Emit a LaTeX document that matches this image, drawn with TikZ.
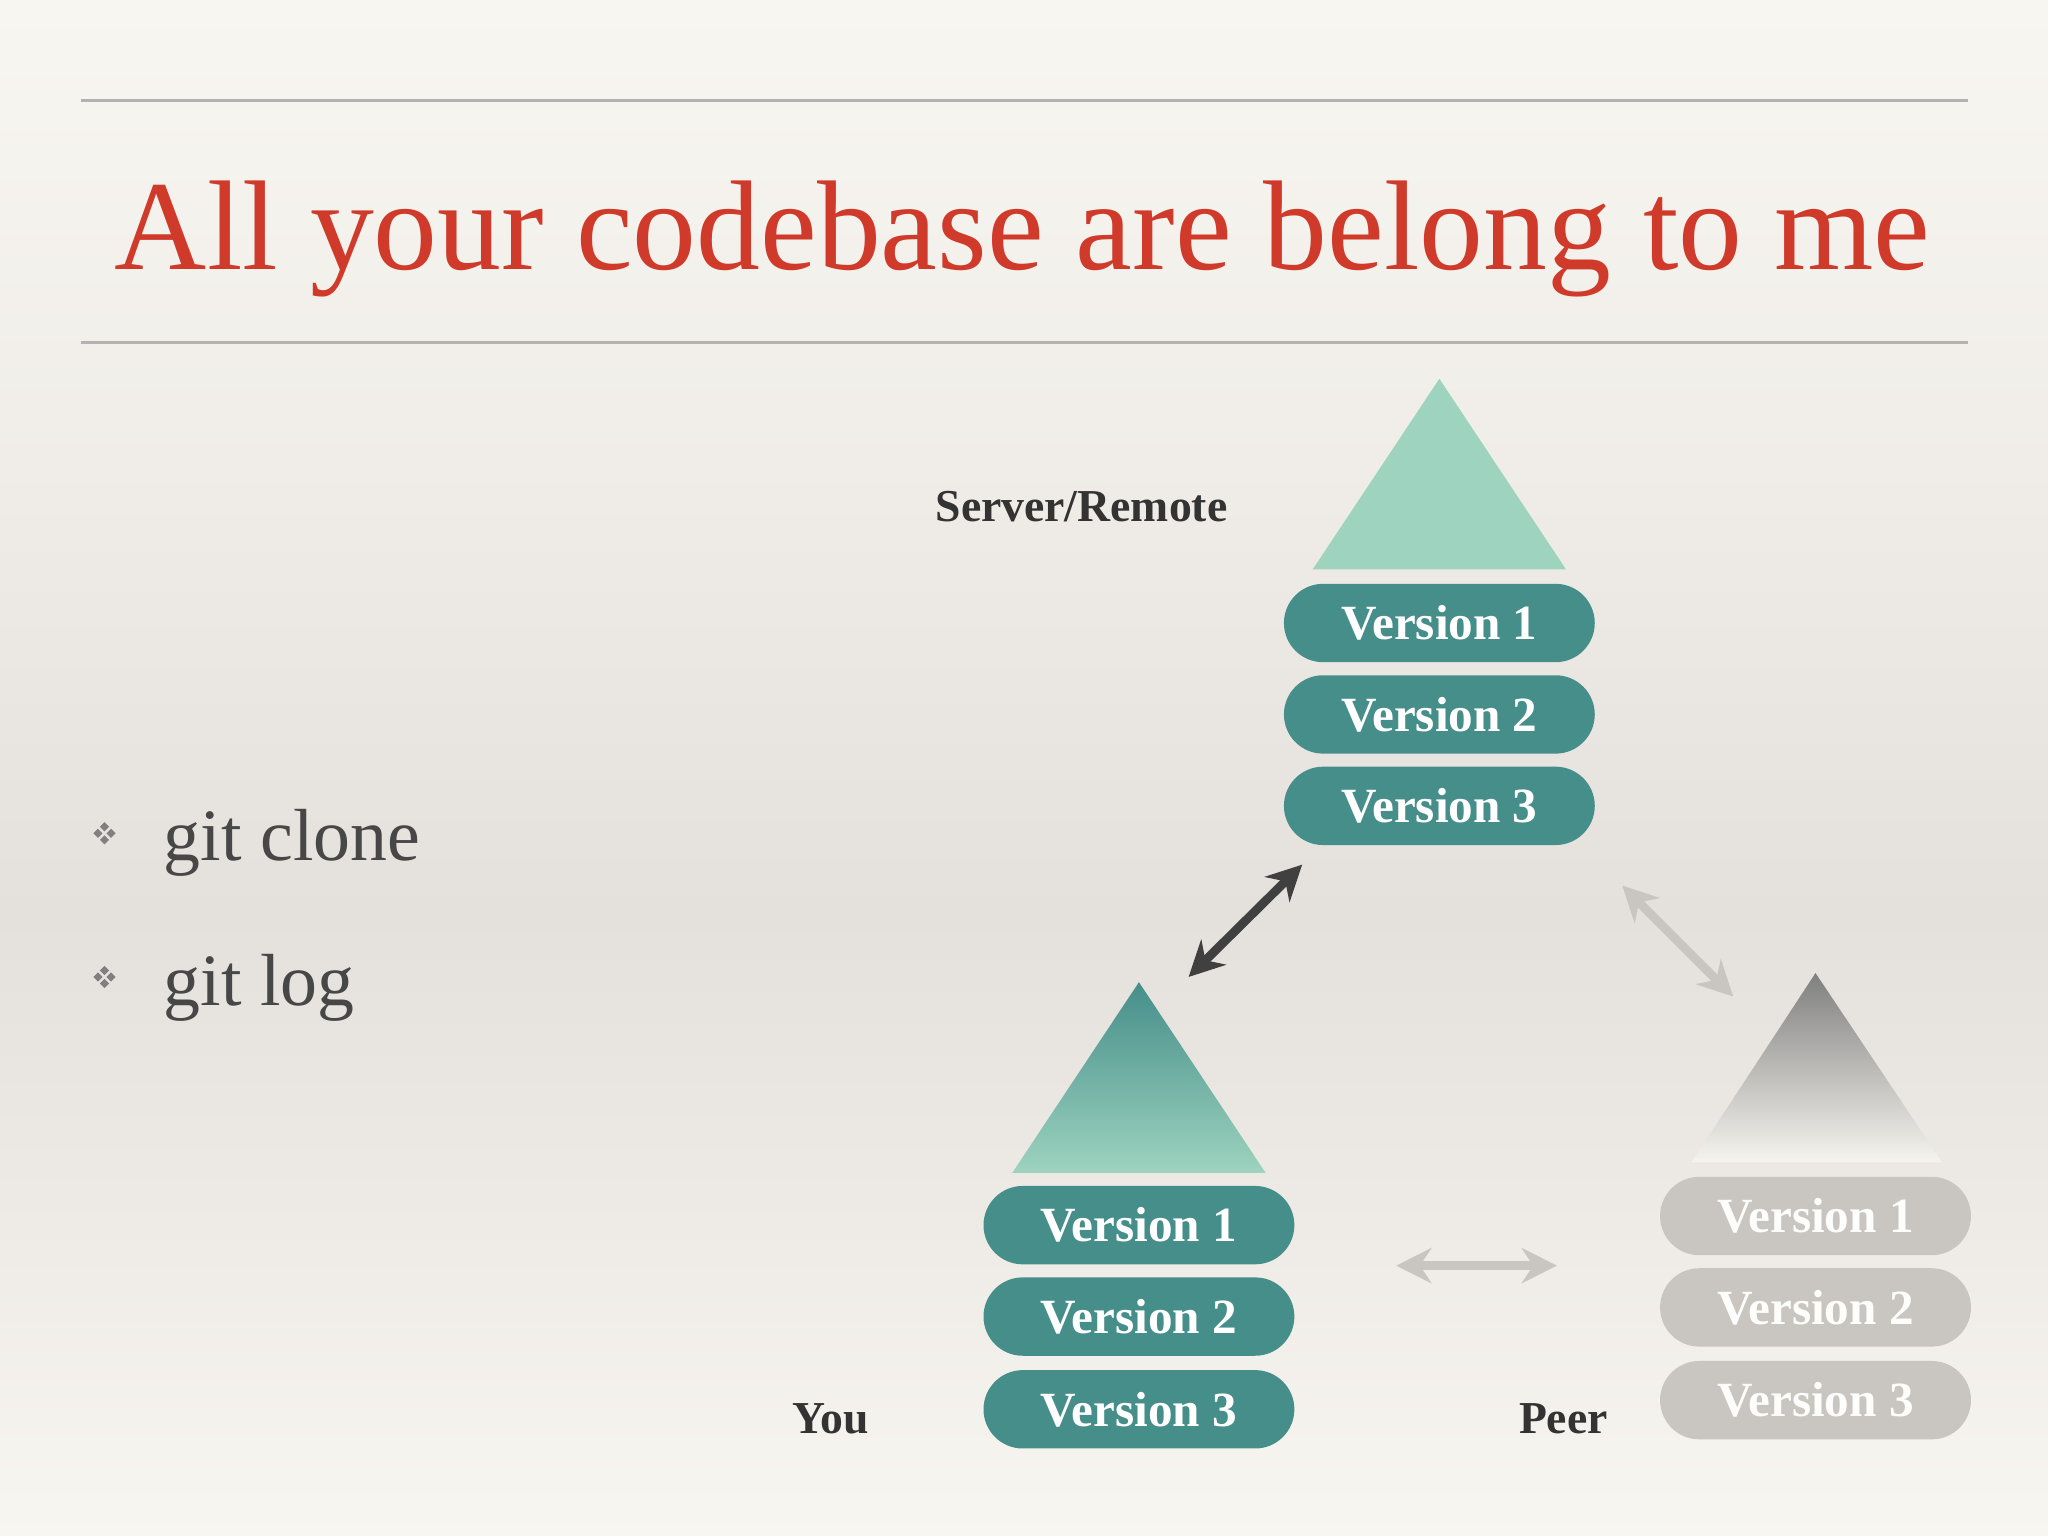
\documentclass[tikz,border=0pt]{standalone}
\usepackage{fontspec}
\setmainfont{Liberation Serif}
\usetikzlibrary{arrows.meta,shapes.misc,calc}
\definecolor{teal}{HTML}{468E8A}
\definecolor{mint}{HTML}{9DD3BF}
\definecolor{pgray}{HTML}{C9C5C0}
\definecolor{ttl}{HTML}{D03A2B}
\definecolor{bg}{HTML}{F8F6F0}
\definecolor{band}{HTML}{E4E0DC}
\definecolor{ink}{HTML}{333333}
\tikzset{
 pill/.style={rounded rectangle, minimum width=238*0.01306cm, minimum height=60*0.01306cm, inner sep=0pt, font=\fontsize{14}{14}\selectfont\bfseries},
 tpill/.style={pill, fill=teal, text=white},
 gpill/.style={pill, fill=pgray, text=white!96!pgray},
 lbl/.style={font=\fontsize{13}{13}\selectfont\bfseries, text=ink},
 bul/.style={font=\fontsize{21}{21}\selectfont, text=black!72, anchor=west},
 dbl/.style={{Stealth[length=10pt,width=10pt]}-{Stealth[length=10pt,width=10pt]}, line width=2.5pt},
}
\newcommand{\bulletmark}[1]{\foreach \dx/\dy in {0/-5,0/5,-5/0,5/0}{\fill[gray] ($(#1)+(\dx,\dy)$) +(0,-3.5) -- +(3.5,0) -- +(0,3.5) -- +(-3.5,0) -- cycle;}}
\begin{document}
\begin{tikzpicture}[x=0.01306cm,y=-0.01306cm]
\useasboundingbox (0,0) rectangle (1568,1176);
\shade[top color=bg, bottom color=band, middle color=bg!60!band] (0,0) rectangle (1568,700);
\shade[top color=band, bottom color=bg] (0,700) rectangle (1568,1176);
\draw[gray!60, line width=0.8pt] (62,77) -- (1507,77);
\draw[gray!60, line width=0.8pt] (62,262) -- (1507,262);
\node[text=ttl] (title) at (783,183) {\resizebox{18.15cm}{!}{\strut All your codebase are belong to me}};
% bullets
\coordinate (b1) at (80,638);
\coordinate (b2) at (80,748);
\bulletmark{b1}
\bulletmark{b2}
\node[bul] (g1) at (116,645) {git clone};
\node[bul] (g2) at (116,756) {git log};
% server
\fill[mint] (1102,290) -- (1199,436) -- (1005,436) -- cycle;
\node[tpill] (s1) at (1102,477) {Version 1};
\node[tpill] (s2) at (1102,547) {Version 2};
\node[tpill] (s3) at (1102,617) {Version 3};
\node[lbl] (srv) at (828,388) {Server/Remote};
% you
\shade[top color=teal, bottom color=mint] (872,752) -- (969,898) -- (775,898) -- cycle;
\node[tpill] (y1) at (872,938) {Version 1};
\node[tpill] (y2) at (872,1008) {Version 2};
\node[tpill] (y3) at (872,1079) {Version 3};
\node[lbl] (you) at (636,1086) {You};
% peer
\shade[top color=black!50, bottom color=bg!90!band] (1390,745) -- (1487,890) -- (1295,890) -- cycle;
\node[gpill] (p1) at (1390,931) {Version 1};
\node[gpill] (p2) at (1390,1001) {Version 2};
\node[gpill] (p3) at (1390,1072) {Version 3};
\node[lbl] (peer) at (1197,1086) {Peer};
% arrows
\coordinate (a1) at (997,662); \coordinate (a2) at (910,748);
\coordinate (c1) at (1242,678); \coordinate (c2) at (1327,763);
\coordinate (d1) at (1069,969); \coordinate (d2) at (1192,969);
\draw[dbl, draw=black!75, fill=black!75] (a1) -- (a2);
\draw[dbl, draw=pgray, fill=pgray] (c1) -- (c2);
\draw[dbl, draw=pgray, fill=pgray] (d1) -- (d2);
\end{tikzpicture}
\end{document}
